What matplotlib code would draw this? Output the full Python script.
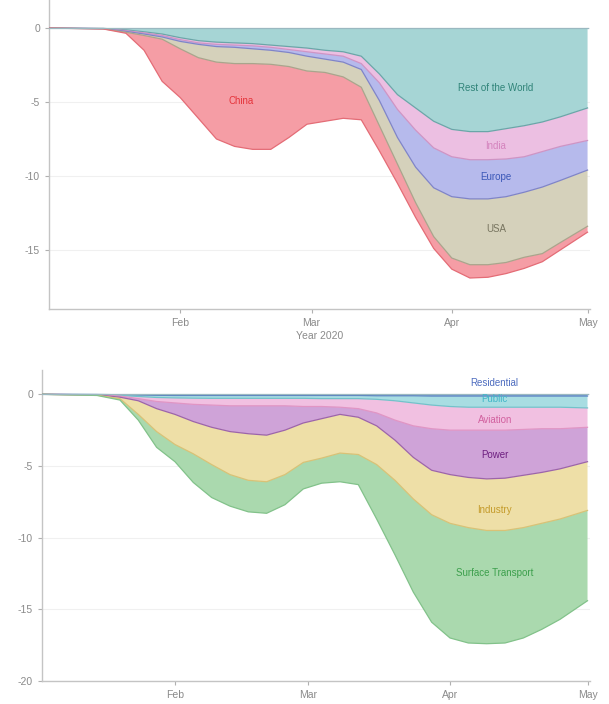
import numpy as np
import pandas as pd
import matplotlib
matplotlib.use("Agg")
import matplotlib.pyplot as plt
import matplotlib.dates as mdates

plt.rcParams['font.family'] = ['Liberation Sans', 'DejaVu Sans']
plt.rcParams['axes.unicode_minus'] = False

# Dates the values were read at (2020)
dates = pd.to_datetime([
    "2020-01-03", "2020-01-15", "2020-01-20", "2020-01-24", "2020-01-28",
    "2020-02-01", "2020-02-05", "2020-02-09", "2020-02-13", "2020-02-17",
    "2020-02-21", "2020-02-25", "2020-02-29", "2020-03-04", "2020-03-08",
    "2020-03-12", "2020-03-16", "2020-03-20", "2020-03-24", "2020-03-28",
    "2020-04-01", "2020-04-05", "2020-04-09", "2020-04-13", "2020-04-17",
    "2020-04-21", "2020-04-25", "2020-05-01"])

# Top panel: change by region (MtCO2/day)
region_names = ["Rest of the World", "India", "Europe", "USA", "China"]
rest_of_world = [0, -0.02, -0.12, -0.25, -0.4, -0.65, -0.85, -0.95, -1.0, -1.05, -1.15, -1.25, -1.35, -1.5,
                 -1.6, -1.9, -3.1, -4.5, -5.4, -6.3, -6.85, -7.0, -7.0, -6.8, -6.6, -6.35, -6.0, -5.4]
india = [0, -0.01, -0.05, -0.07, -0.1, -0.13, -0.15, -0.15, -0.15, -0.15, -0.15, -0.2, -0.25, -0.25,
         -0.3, -0.5, -0.6, -1.0, -1.5, -1.8, -1.85, -1.9, -1.9, -2.05, -2.1, -2.0, -2.0, -2.2]
europe = [0, -0.01, -0.05, -0.08, -0.1, -0.12, -0.1, -0.15, -0.15, -0.2, -0.2, -0.2, -0.3, -0.35,
          -0.4, -0.4, -1.2, -1.9, -2.5, -2.7, -2.7, -2.65, -2.65, -2.55, -2.4, -2.4, -2.3, -2.0]
usa = [0, -0.01, -0.06, -0.1, -0.15, -0.5, -0.9, -1.05, -1.1, -1.0, -0.95, -0.95, -1.0, -0.9,
       -1.0, -1.2, -1.7, -1.8, -2.4, -3.3, -4.15, -4.45, -4.45, -4.45, -4.4, -4.5, -4.2, -3.8]
china = [0, -0.01, -0.07, -1.0, -2.85, -3.3, -4.1, -5.2, -5.6, -5.8, -5.75, -4.8, -3.6, -3.3,
         -2.8, -2.2, -1.7, -1.3, -1.0, -0.8, -0.75, -0.9, -0.85, -0.75, -0.75, -0.55, -0.5, -0.4]

# Bottom panel: change by sector (MtCO2/day)
sector_names = ["Residential", "Public", "Aviation", "Power", "Industry", "Surface Transport"]
residential = [0, -0.01, -0.03, -0.05, -0.07, -0.08, -0.08, -0.08, -0.08, -0.08, -0.08, -0.08, -0.08, -0.08,
               -0.08, -0.08, -0.1, -0.1, -0.1, -0.12, -0.12, -0.12, -0.12, -0.12, -0.12, -0.12, -0.12, -0.12]
public = [0, -0.01, -0.05, -0.1, -0.15, -0.17, -0.19, -0.2, -0.2, -0.2, -0.2, -0.2, -0.2, -0.22,
          -0.22, -0.22, -0.25, -0.35, -0.5, -0.63, -0.73, -0.78, -0.78, -0.78, -0.78, -0.78, -0.78, -0.83]
aviation = [0, -0.01, -0.04, -0.15, -0.28, -0.35, -0.43, -0.47, -0.52, -0.52, -0.52, -0.52, -0.57, -0.55,
            -0.6, -0.7, -0.95, -1.35, -1.6, -1.65, -1.65, -1.6, -1.6, -1.6, -1.55, -1.5, -1.5, -1.35]
power = [0, -0.01, -0.08, -0.15, -0.5, -0.8, -1.2, -1.55, -1.8, -1.95, -2.05, -1.7, -1.15, -0.85,
         -0.5, -0.6, -0.9, -1.4, -2.2, -2.9, -3.1, -3.3, -3.4, -3.35, -3.2, -3.05, -2.8, -2.4]
industry = [0, -0.02, -0.1, -0.95, -1.6, -2.1, -2.25, -2.6, -3.0, -3.25, -3.25, -3.1, -2.75, -2.75,
            -2.7, -2.6, -2.7, -2.8, -2.9, -3.1, -3.4, -3.5, -3.6, -3.65, -3.65, -3.55, -3.5, -3.4]
surface_transport = [0, -0.02, -0.1, -0.4, -1.1, -1.2, -2.0, -2.3, -2.2, -2.2, -2.2, -2.1, -1.85, -1.75,
                     -2.0, -2.1, -3.8, -5.2, -6.5, -7.5, -8.0, -8.05, -7.9, -7.85, -7.7, -7.4, -7.0, -6.3]

region_fill = ["#a6d5d5", "#ecbfe2", "#b6baec", "#d5d1bb", "#f59da5"]
region_edge = ["#6aa6a8", "#cf94c4", "#7f84c8", "#a9a58c", "#e46c76"]
region_text = ["#2f8378", "#d483bd", "#3b58b8", "#77745f", "#e5333a"]
sector_fill = ["#86acdc", "#a8dde2", "#f1c0e1", "#cfa3d8", "#eedfa7", "#aad9ae"]
sector_edge = ["#5b82c2", "#72c2ca", "#e195c4", "#9c64aa", "#d9c276", "#82c28a"]
sector_text = ["#4d6cbf", "#42b7c8", "#d2619f", "#6e1f80", "#c49b2a", "#3c9f4c"]

grey = "#8a8a8a"


def stacked(ax, layers, fills, edges):
    base = np.zeros(len(dates))
    for vals, fc, ec in zip(layers, fills, edges):
        top = base + np.array(vals)
        ax.fill_between(dates, base, top, facecolor=fc, edgecolor="none", zorder=2)
        ax.plot(dates, top, color=ec, lw=0.9, zorder=3)
        base = top
    ax.plot(dates, np.zeros(len(dates)), color="#9ab8c0", lw=0.9, zorder=3)


def style(ax, ylim, yticks):
    ax.set_xlim(pd.Timestamp("2020-01-03"), pd.Timestamp("2020-05-01 12:00"))
    ax.set_ylim(*ylim)
    ax.set_yticks(yticks)
    ax.set_xticks(pd.to_datetime(["2020-02-01", "2020-03-01", "2020-04-01", "2020-05-01"]))
    ax.xaxis.set_major_formatter(mdates.DateFormatter("%b"))
    for s in ["top", "right"]:
        ax.spines[s].set_visible(False)
    for s in ["left", "bottom"]:
        ax.spines[s].set_color("#c4c4c4")
        ax.spines[s].set_linewidth(1.0)
    ax.tick_params(colors="#b0b0b0", labelcolor=grey, labelsize=7.5, length=3, width=0.8)
    ax.grid(axis="y", color="#f0f0f0", lw=0.8, zorder=0)
    ax.set_axisbelow(True)


fig = plt.figure(figsize=(6.09, 7.04), dpi=100)

ax1 = fig.add_axes([0.0805, 0.561, 0.888, 0.439])
stacked(ax1, [rest_of_world, india, europe, usa, china], region_fill, region_edge)
style(ax1, (-19, 1.9), [0, -5, -10, -15])
ax1.set_xlabel("Year 2020", color=grey, fontsize=7.5, labelpad=2)
lbl_x = pd.Timestamp("2020-04-10 18:00")
region_pos = [(lbl_x, -4.05), (lbl_x, -8.0), (lbl_x, -10.1), (lbl_x, -13.6),
              (pd.Timestamp("2020-02-14 12:00"), -4.9)]
for name, (x, y), c in zip(region_names, region_pos, region_text):
    ax1.text(x, y, name, color=c, fontsize=7, ha="center", va="center", zorder=4)

ax2 = fig.add_axes([0.069, 0.0327, 0.8995, 0.4418])
stacked(ax2, [residential, public, aviation, power, industry, surface_transport], sector_fill, sector_edge)
style(ax2, (-20, 1.7), [0, -5, -10, -15, -20])
sector_y = [0.77, -0.35, -1.8, -4.25, -8.1, -12.5]
for name, y, c in zip(sector_names, sector_y, sector_text):
    ax2.text(lbl_x, y, name, color=c, fontsize=7, ha="center", va="center", zorder=4)

fig.savefig("out.png", dpi=100)
